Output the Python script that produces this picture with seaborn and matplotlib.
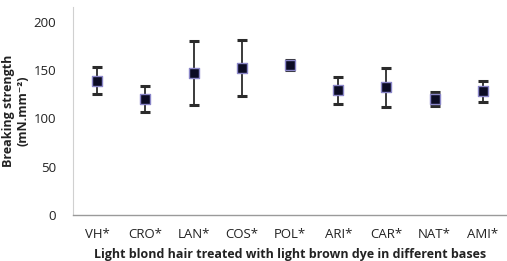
import matplotlib
matplotlib.use("Agg")
import matplotlib.pyplot as plt
import numpy as np
import pandas as pd
import seaborn as sns

# Values
bases = ["VH*", "CRO*", "LAN*", "COS*", "POL*", "ARI*", "CAR*", "NAT*", "AMI*"]
strength = [139, 120, 147, 152, 155, 129, 132, 120, 128]
error = [14, 13, 33, 29, 5, 14, 20, 7, 11]

df = pd.DataFrame({"base": bases, "strength": strength, "err": error})

sns.set_style("white")
plt.rcParams["font.family"] = ["Open Sans", "DejaVu Sans"]

fig = plt.figure(figsize=(5.07, 2.61), dpi=100)
ax = fig.add_axes([0.144, 0.176, 0.856, 0.797])

x = np.arange(len(bases))
ax.errorbar(x, df["strength"], yerr=df["err"], fmt="none", ecolor="#2b2b2b",
            elinewidth=1.3, capsize=3.5, capthick=2.2, zorder=2)
sns.scatterplot(data=df, x=x, y="strength", marker="s", s=55, color="#0b0b24",
                edgecolor="#8a86c8", linewidth=1.0, zorder=3, ax=ax, legend=False)

ax.set_xlim(-0.5, len(bases) - 0.5)
ax.set_ylim(0, 215)
ax.set_yticks([0, 50, 100, 150, 200])
ax.set_xticks(x)
ax.set_xticklabels(bases)
ax.tick_params(axis="both", length=0, labelsize=9.5, colors="#222222")
ax.tick_params(axis="x", pad=9)
ax.tick_params(axis="y", pad=12)

for side in ["top", "right"]:
    ax.spines[side].set_visible(False)
ax.spines["left"].set_color("#d0d0d0")
ax.spines["bottom"].set_color("#9a9a9a")
ax.spines["left"].set_linewidth(0.8)
ax.spines["bottom"].set_linewidth(1.0)

ax.set_ylabel("Breaking strength\n(mN.mm⁻²)", fontsize=9, fontweight="bold",
              color="#222222", linespacing=1.1, va="center")
ax.yaxis.set_label_coords(-0.132, 0.5)
ax.set_xlabel("Light blond hair treated with light brown dye in different bases",
              fontsize=9, fontweight="bold", color="#222222", labelpad=5)

fig.savefig("out.png", dpi=100)
